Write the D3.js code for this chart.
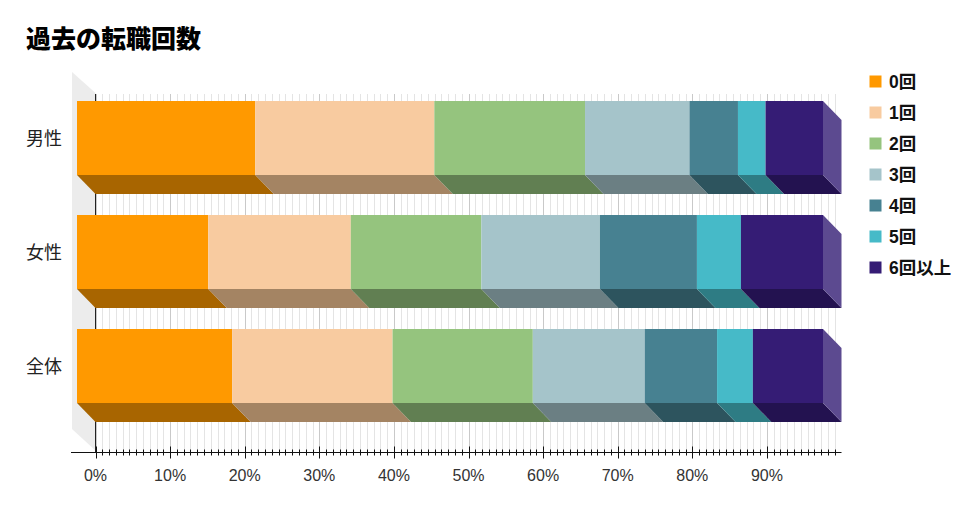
<!DOCTYPE html>
<html><head><meta charset="utf-8">
<style>html,body{margin:0;background:#fff}svg{display:block}text{font-family:"Liberation Sans","Noto Sans CJK JP",sans-serif}</style>
<script src="https://cdn.jsdelivr.net/npm/d3@7"></script></head><body>
<svg id="c" width="979" height="511"></svg>
<script>
const title = "過去の転職回数";
const categories = ["男性","女性","全体"];
const seriesNames = ["0回","1回","2回","3回","4回","5回","6回以上"];
const colors = ["#ff9900","#f8cba0","#95c47e","#a5c4ca","#478191","#46bac8","#351c75"];
const sideColors = ["#a86500","#a48463","#617f52","#6b7f83","#2d545e","#2e7c84","#231250"];
const male = [23.9,24.0,20.2,14.0,6.5,3.7,7.7];
const female = [17.6,19.1,17.5,15.9,13.0,5.9,11.0];
const total = [20.8,21.5,18.8,15.0,9.7,4.8,9.4];
const rows = [male,female,total];
const majorTicks = [0,10,20,30,40,50,60,70,80,90];
const minorStep = 10/11;

const svg = d3.select("#c");
const depth = 19;
const x = d3.scaleLinear().domain([0,100]).range([95.5,841.5]);
const bandH = 74, pitch = 114, topY = 101;
const yTop = c => topY + categories.indexOf(c)*pitch;
const axisY = 452.5;
const gridTop = 93;
const minor = d3.range(0,100,minorStep);

// back wall
svg.append("polygon").attr("fill","#ececec")
  .attr("points",[[x(0)-depth-4.5,72],[x(0),gridTop],[x(0),axisY-2],[x(0)-depth-4.5,429]].join(" "));

// gridlines
svg.append("g").selectAll("line").data(minor).join("line")
  .attr("x1",d=>Math.round(x(d))+.5).attr("x2",d=>Math.round(x(d))+.5)
  .attr("y1",gridTop+1).attr("y2",axisY)
  .attr("stroke",(d,i)=>i%11===0?"#c9c9c9":"#e4e4e4").attr("stroke-width",1);
svg.append("line").attr("x1",x(0)).attr("x2",x(0)).attr("y1",gridTop+1).attr("y2",axisY).attr("stroke","#222");

// bars
categories.forEach((c,ci)=>{
  const g = svg.append("g");
  const stack = d3.cumsum(rows[ci]);
  const t = yTop(c), b = t+bandH;
  const fx = v => x(v)-depth+0.5;
  rows[ci].forEach((v,i)=>{
    const s = i?stack[i-1]:0, e = stack[i];
    g.append("polygon").attr("fill",sideColors[i])
      .attr("points",[[fx(s),b],[fx(e),b],[x(e),b+depth],[x(s),b+depth]].join(" "));
  });
  g.append("polygon").attr("fill","#5c4a90")
    .attr("points",[[fx(100),t],[x(100),t+depth],[x(100),b+depth],[fx(100),b]].join(" "));
  rows[ci].forEach((v,i)=>{
    const s = i?stack[i-1]:0, e = stack[i];
    g.append("rect").attr("x",fx(s)).attr("y",t).attr("width",fx(e)-fx(s)).attr("height",bandH).attr("fill",colors[i]);
  });
  svg.append("text").attr("x",62).attr("y",t+bandH/2+2.5).attr("text-anchor","end")
    .attr("dominant-baseline","middle").attr("font-size",18).attr("fill","#222").text(c);
});

// axis
const ax = svg.append("g");
ax.append("line").attr("x1",71).attr("x2",x(100)).attr("y1",axisY).attr("y2",axisY).attr("stroke","#111").attr("stroke-width",1);
ax.selectAll("line.m").data(minor).join("line").attr("class","m")
  .attr("x1",d=>Math.round(x(d))+.5).attr("x2",d=>Math.round(x(d))+.5)
  .attr("y1",axisY-3).attr("y2",axisY+3).attr("stroke","#111");
ax.selectAll("line.M").data(majorTicks).join("line").attr("class","M")
  .attr("x1",d=>Math.round(x(d))+.5).attr("x2",d=>Math.round(x(d))+.5)
  .attr("y1",axisY-6).attr("y2",axisY+6).attr("stroke","#111");
ax.selectAll("text").data(majorTicks).join("text")
  .attr("x",d=>x(d)).attr("y",481).attr("text-anchor","middle")
  .attr("font-size",16).attr("fill","#333").text(d=>d+"%");

// title
svg.append("text").attr("x",26).attr("y",48).attr("font-size",25).attr("font-weight",900)
  .attr("fill","#000").attr("font-family","'Noto Sans CJK JP'").text(title);

// legend
const lg = svg.append("g").selectAll("g").data(seriesNames).join("g")
  .attr("transform",(d,i)=>`translate(869.5,${75.5+i*31})`);
lg.append("rect").attr("width",12).attr("height",12).attr("fill",(d,i)=>colors[i]);
lg.append("text").attr("x",19.5).attr("y",12.5).attr("font-size",17.5).attr("font-weight",700).attr("fill","#111").text(d=>d);
</script></body></html>
